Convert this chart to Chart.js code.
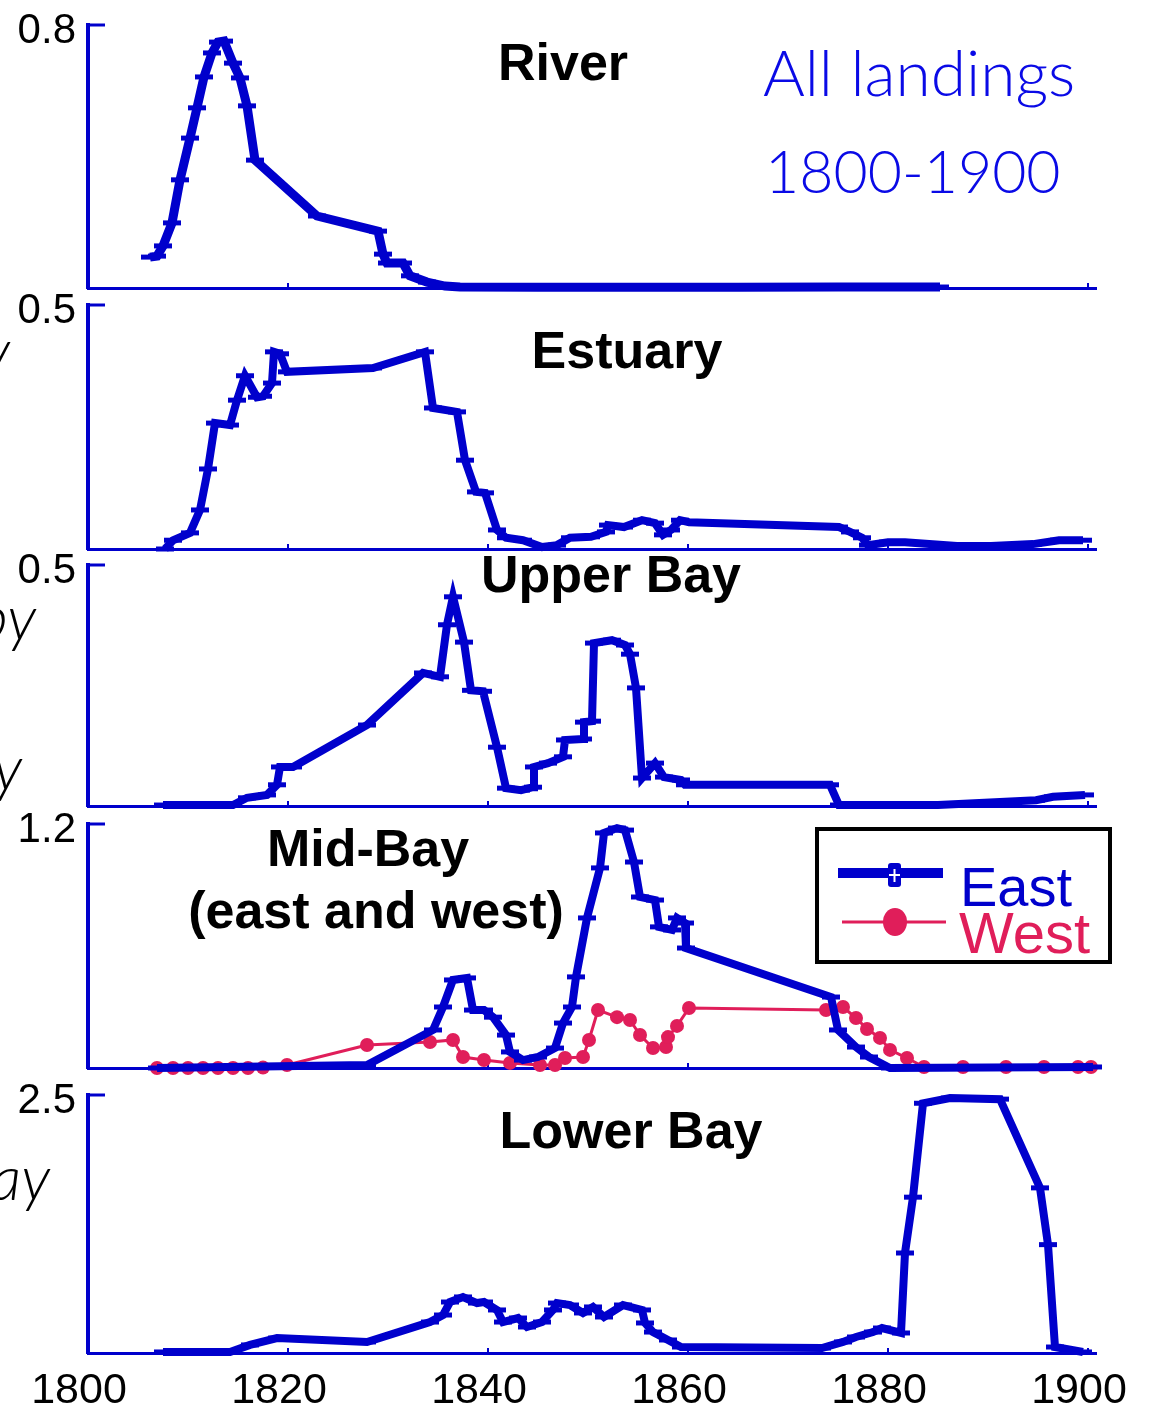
<!DOCTYPE html>
<html>
<head>
<meta charset="utf-8">
<script src="https://cdn.jsdelivr.net/npm/chart.js@4.4.0/dist/chart.umd.min.js"></script>
<style>
body{margin:0;background:#fff;width:1155px;height:1414px;position:relative;overflow:hidden;font-family:'Liberation Sans',Arial,sans-serif}
canvas{position:absolute;left:0}
.ttl{position:absolute;font-weight:bold;font-size:52px;line-height:52px;white-space:nowrap;transform:translateX(-50%);color:#000;z-index:2}
.note{position:absolute;font-family:Lato,'Open Sans',sans-serif;font-weight:300;line-height:64px;color:#0a0ae6;white-space:nowrap;z-index:2}
.frag{position:absolute;font-family:Lato,'Open Sans',sans-serif;font-weight:300;font-style:italic;font-size:62px;line-height:62px;color:#000;white-space:nowrap;text-align:right;z-index:2}
#legend{position:absolute;left:815px;top:827px;width:289px;height:129px;border:4px solid #000;background:#fff;z-index:3}
#legend svg{position:absolute;left:0;top:0}
.lg{position:absolute;white-space:nowrap}
</style>
</head>
<body>
<div class="ttl" style="left:563px;top:36px">River</div>
<div class="ttl" style="left:627px;top:324px">Estuary</div>
<div class="ttl" style="left:611px;top:548px">Upper Bay</div>
<div class="ttl" style="left:368px;top:822px">Mid-Bay</div>
<div class="ttl" style="left:376px;top:884px">(east and west)</div>
<div class="ttl" style="left:631px;top:1104px">Lower Bay</div>

<div class="note" style="left:763px;top:40px;font-size:64px">All landings</div>
<div class="note" style="left:765px;top:139px;font-size:59px">1800-1900</div>

<div class="frag" style="right:1145px;top:318px">y</div>
<div class="frag" style="right:1119px;top:585px">py</div>
<div class="frag" style="right:1133px;top:735px">y</div>
<div class="frag" style="right:1105px;top:1145px">ay</div>

<div id="legend">
  <svg width="289" height="129">
    <line x1="19" y1="42" x2="124" y2="42" stroke="#0000cc" stroke-width="10"/>
    <rect x="69" y="32" width="13" height="24" rx="3" fill="#0000cc"/>
    <line x1="75.5" y1="38" x2="75.5" y2="51" stroke="#fff" stroke-width="2"/>
    <line x1="70" y1="44" x2="81" y2="44" stroke="#fff" stroke-width="2"/>
    <line x1="23" y1="91" x2="127" y2="91" stroke="#e01e5a" stroke-width="3"/>
    <ellipse cx="76" cy="91" rx="12" ry="14" fill="#e01e5a"/>
  </svg>
  <div class="lg" style="left:141px;top:28px;font-size:56px;line-height:56px;color:#0000cc">East</div>
  <div class="lg" style="left:140px;top:73px;font-size:58px;line-height:58px;color:#e01e5a">West</div>
</div>

<script>
const BLUE = '#0000cc';
const PINK = '#e01e5a';

const panelNames = ['River', 'Estuary', 'Upper Bay', 'Mid-Bay', 'Lower Bay'];
const yTopLabels = ['0.8', '0.5', '0.5', '1.2', '2.5'];
const xTickLabels = ['1800', '1820', '1840', '1860', '1880', '1900'];

const riverYears = [1806.2, 1806.9, 1807.5, 1808.4, 1809.2, 1810.2, 1810.9, 1811.6, 1812.4, 1813.0, 1813.6, 1814.5, 1815.2, 1815.9, 1816.7, 1822.9, 1829.0, 1829.5, 1829.9, 1831.5, 1832.2, 1833.9, 1835.7, 1837.2, 1845, 1855, 1865, 1875, 1885.2];
const riverValues = [0.094, 0.097, 0.128, 0.198, 0.329, 0.456, 0.548, 0.642, 0.715, 0.748, 0.751, 0.684, 0.639, 0.554, 0.389, 0.219, 0.173, 0.103, 0.076, 0.076, 0.037, 0.018, 0.006, 0.003, 0.002, 0.002, 0.002, 0.003, 0.003];

const estuaryYears = [1807.7, 1808.5, 1810.2, 1811.2, 1812.0, 1812.7, 1814.2, 1814.9, 1815.7, 1816.9, 1817.5, 1818.4, 1818.6, 1819.2, 1819.9, 1828.5, 1833.7, 1834.5, 1836.9, 1837.7, 1838.8, 1839.7, 1840.9, 1841.8, 1843.5, 1845.4, 1846.9, 1848.2, 1850.3, 1851.8, 1852.0, 1853.6, 1855.4, 1856.7, 1857.5, 1858.3, 1859.2, 1860.1, 1875.1, 1876.2, 1877.4, 1878.0, 1880.0, 1881.7, 1886.9, 1890.3, 1894.5, 1897.1, 1899.5];
const estuaryValues = [0.000, 0.018, 0.033, 0.080, 0.164, 0.258, 0.254, 0.305, 0.355, 0.311, 0.313, 0.340, 0.404, 0.400, 0.363, 0.371, 0.404, 0.289, 0.281, 0.182, 0.117, 0.115, 0.039, 0.023, 0.018, 0.004, 0.008, 0.023, 0.025, 0.035, 0.049, 0.045, 0.059, 0.053, 0.029, 0.039, 0.059, 0.055, 0.045, 0.035, 0.023, 0.008, 0.014, 0.014, 0.006, 0.006, 0.010, 0.018, 0.018];

const upperYears = [1807.5, 1814.5, 1815.9, 1817.9, 1818.9, 1819.2, 1820.5, 1827.9, 1833.5, 1835.2, 1835.9, 1836.5, 1837.6, 1838.3, 1839.5, 1840.9, 1841.8, 1843.3, 1844.5, 1844.6, 1846.0, 1847.5, 1847.7, 1849.5, 1849.6, 1850.4, 1850.6, 1852.4, 1853.7, 1854.2, 1854.8, 1855.4, 1856.7, 1857.6, 1859.3, 1859.7, 1874.2, 1875.1, 1885.0, 1894.8, 1896.5, 1899.7];
const upperValues = [0.002, 0.002, 0.017, 0.023, 0.044, 0.081, 0.081, 0.168, 0.276, 0.268, 0.376, 0.434, 0.340, 0.240, 0.238, 0.122, 0.037, 0.033, 0.039, 0.081, 0.089, 0.102, 0.137, 0.139, 0.174, 0.176, 0.338, 0.344, 0.334, 0.315, 0.245, 0.058, 0.089, 0.060, 0.054, 0.044, 0.044, 0.002, 0.002, 0.012, 0.019, 0.023];

const midEastYears = [1806.9, 1827.9, 1834.5, 1835.5, 1836.5, 1837.9, 1838.5, 1839.6, 1840.5, 1841.8, 1842.2, 1843.5, 1845.0, 1846.7, 1847.5, 1848.4, 1848.8, 1849.9, 1851.2, 1851.6, 1852.9, 1853.7, 1854.6, 1855.2, 1856.7, 1857.1, 1858.4, 1858.9, 1859.7, 1859.8, 1874.3, 1875.0, 1876.8, 1878.1, 1880.2, 1890.0, 1900.5];
const midEastValues = [0.000, 0.015, 0.187, 0.300, 0.433, 0.443, 0.285, 0.285, 0.250, 0.162, 0.079, 0.039, 0.054, 0.098, 0.221, 0.300, 0.448, 0.738, 0.984, 1.156, 1.180, 1.170, 1.013, 0.841, 0.826, 0.694, 0.679, 0.738, 0.713, 0.590, 0.349, 0.187, 0.103, 0.054, 0.000, 0.003, 0.005];

const midWestYears = [1806.9, 1808.5, 1810.0, 1811.5, 1813.0, 1814.5, 1816.0, 1817.5, 1819.9, 1827.9, 1834.2, 1836.5, 1837.5, 1839.6, 1842.2, 1845.2, 1846.7, 1847.7, 1849.5, 1850.1, 1851.0, 1852.9, 1854.2, 1855.2, 1856.5, 1857.8, 1858.0, 1858.9, 1860.1, 1873.8, 1875.5, 1876.8, 1877.9, 1879.2, 1880.2, 1881.9, 1883.6, 1887.5, 1891.8, 1895.6, 1899.0, 1900.3];
const midWestValues = [0.000, 0.000, 0.000, 0.000, 0.000, 0.000, 0.000, 0.002, 0.015, 0.113, 0.128, 0.138, 0.054, 0.039, 0.025, 0.015, 0.015, 0.049, 0.054, 0.138, 0.285, 0.250, 0.236, 0.162, 0.098, 0.103, 0.152, 0.207, 0.295, 0.285, 0.300, 0.246, 0.192, 0.148, 0.089, 0.049, 0.005, 0.005, 0.005, 0.005, 0.005, 0.005];

const lowerYears = [1807.5, 1814.2, 1816.2, 1818.9, 1827.9, 1834.2, 1835.5, 1836.2, 1837.5, 1838.9, 1839.6, 1840.9, 1841.5, 1843.0, 1843.9, 1845.4, 1846.5, 1846.9, 1848.2, 1849.5, 1850.5, 1851.6, 1853.5, 1855.4, 1855.7, 1856.5, 1858.0, 1859.3, 1873.4, 1875.5, 1876.8, 1878.5, 1879.4, 1881.3, 1881.7, 1882.5, 1883.5, 1886.2, 1891.2, 1895.2, 1896.0, 1896.7, 1899.5];
const lowerValues = [0.010, 0.010, 0.078, 0.145, 0.107, 0.300, 0.368, 0.494, 0.543, 0.484, 0.494, 0.417, 0.300, 0.339, 0.252, 0.300, 0.417, 0.484, 0.465, 0.388, 0.446, 0.349, 0.465, 0.417, 0.291, 0.203, 0.126, 0.058, 0.048, 0.107, 0.155, 0.203, 0.242, 0.194, 0.969, 1.510, 2.420, 2.470, 2.460, 1.600, 1.050, 0.058, 0.010];

function pts(xs, ys) {
    return xs.map((x, i) => ({x: x, y: ys[i]}));
}

function eastSet(xs, ys, width) {
    return {
        data: pts(xs, ys),
        borderColor: BLUE,
        borderWidth: width,
        pointStyle: 'line',
        pointRadius: 9,
        pointBorderWidth: 5,
        pointBorderColor: BLUE,
        tension: 0,
        clip: false
    };
}

function westSet(xs, ys) {
    return {
        data: pts(xs, ys),
        borderColor: PINK,
        borderWidth: 3,
        pointStyle: 'circle',
        pointRadius: 7,
        pointBorderWidth: 0,
        pointBackgroundColor: PINK,
        tension: 0,
        clip: false
    };
}

// draws the short inward tick marks on both axes
const innerTicks = {
    id: 'innerTicks',
    beforeDatasetsDraw(chart) {
        const {ctx, chartArea, scales} = chart;
        ctx.save();
        ctx.strokeStyle = BLUE;
        ctx.lineWidth = 3;
        scales.y.ticks.forEach(function(t){
            const py = Math.round(scales.y.getPixelForValue(t.value));
            ctx.beginPath();
            ctx.moveTo(chartArea.left, py);
            ctx.lineTo(chartArea.left + 17, py);
            ctx.stroke();
        });
        ctx.lineWidth = 2;
        scales.x.ticks.forEach(function(t){
            const px = Math.round(scales.x.getPixelForValue(t.value));
            ctx.beginPath();
            ctx.moveTo(px, chartArea.bottom);
            ctx.lineTo(px, chartArea.bottom - 5);
            ctx.stroke();
        });
        ctx.restore();
    }
};

// panel boxes in page pixels (chart area top / bottom)
const panels = [
    {top: 25, bottom: 288, max: 0.8, step: 0.1},
    {top: 305, bottom: 549, max: 0.5, step: 0.1},
    {top: 565, bottom: 806, max: 0.5, step: 0.1},
    {top: 824, bottom: 1068, max: 1.2, step: 0.2},
    {top: 1095, bottom: 1353, max: 2.5, step: 0.5}
];

function make_chart(idx, datasets, showX) {
    const p = panels[idx];
    const padTop = 42;
    const extra = showX ? 61 : 42;
    const canvas = document.createElement('canvas');
    canvas.width = 1155;
    canvas.height = padTop + (p.bottom - p.top) + extra;
    canvas.style.top = (p.top - padTop) + 'px';
    document.body.appendChild(canvas);
    return new Chart(canvas.getContext('2d'), {
        type: 'line',
        data: {datasets: datasets},
        plugins: [innerTicks],
        options: {
            responsive: false,
            animation: false,
            events: [],
            layout: {padding: {top: padTop, right: 59, bottom: 0, left: 0}},
            plugins: {legend: {display: false}, tooltip: {enabled: false}, title: {display: false}},
            scales: {
                x: {
                    type: 'linear',
                    min: 1800,
                    max: 1900.8,
                    grid: {display: false, drawTicks: false},
                    border: {display: true, color: BLUE, width: 3},
                    afterFit: function(scale){ scale.height = extra; },
                    ticks: {
                        display: showX,
                        stepSize: 20,
                        includeBounds: false,
                        autoSkip: false,
                        maxRotation: 0,
                        padding: 12,
                        labelOffset: -9,
                        color: '#000',
                        font: {family: "'Liberation Sans', Arial, sans-serif", size: 43},
                        callback: function(v){
                            const k = Math.round((v - 1800) / 20);
                            return xTickLabels[k];
                        }
                    }
                },
                y: {
                    min: 0,
                    max: p.max,
                    grid: {display: false, drawTicks: false},
                    border: {display: true, color: BLUE, width: 4},
                    afterFit: function(scale){ scale.width = 88; },
                    ticks: {
                        stepSize: p.step,
                        padding: 12,
                        labelOffset: 6,
                        color: '#000',
                        font: {family: "'Liberation Sans', Arial, sans-serif", size: 42},
                        callback: function(v){
                            return Math.abs(v - p.max) < 1e-6 ? yTopLabels[idx] : null;
                        }
                    }
                }
            }
        }
    });
}

make_chart(0, [eastSet(riverYears, riverValues, 9)], false);
make_chart(1, [eastSet(estuaryYears, estuaryValues, 8)], false);
make_chart(2, [eastSet(upperYears, upperValues, 8)], false);
make_chart(3, [eastSet(midEastYears, midEastValues, 8), westSet(midWestYears, midWestValues)], false);
make_chart(4, [eastSet(lowerYears, lowerValues, 8)], true);
</script>
</body>
</html>
